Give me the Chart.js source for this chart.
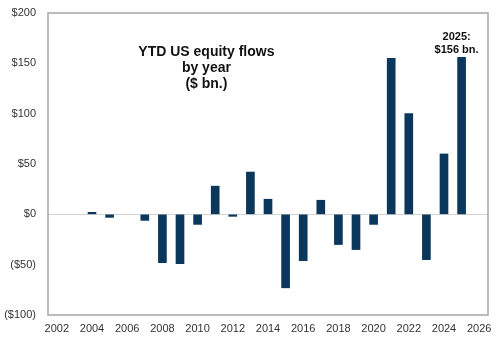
<!DOCTYPE html>
<html>
<head>
<meta charset="utf-8">
<script src="https://cdn.jsdelivr.net/npm/chart.js@4/dist/chart.umd.min.js"></script>
<style>
  html, body { margin: 0; padding: 0; background: #ffffff; }
  #wrap { width: 500px; height: 342px; }
</style>
</head>
<body>
<div id="wrap"><canvas id="flows"></canvas></div>
<script>
// Years on the x axis (category axis, every other one labelled)
const years = ["2002","2003","2004","2005","2006","2007","2008","2009","2010","2011","2012","2013",
  "2014","2015","2016","2017","2018","2019","2020","2021","2022","2023","2024","2025","2026"];
// YTD US equity flows, $ bn (null = no bar)
const flows = [null, null, 2, -3, null, -6, -48, -49, -10, 28, -2, 42,
  15, -73, -46, 14, -30, -35, -10, 155, 100, -45, 60, 156, null];

const titleLines = ["YTD US equity flows", "by year", "($ bn.)"];
const noteLines = ["2025:", "$156 bn."];

const fmtDollar = (v) => v < 0 ? "($" + Math.abs(v) + ")" : "$" + v;

// Box round the plot and the text inside it
const decorations = {
  id: "decorations",
  afterDraw(chart) {
    const { ctx, chartArea, scales } = chart;
    ctx.save();
    ctx.strokeStyle = "#a6a6a6";
    ctx.lineWidth = 1.5;
    ctx.strokeRect(chartArea.left, chartArea.top, chartArea.right - chartArea.left, chartArea.bottom - chartArea.top);

    ctx.fillStyle = "#111111";
    ctx.textAlign = "center";
    ctx.textBaseline = "middle";
    ctx.font = "bold 14px 'Liberation Sans', Arial, sans-serif";
    const tx = chartArea.left + (chartArea.right - chartArea.left) * 0.36;
    titleLines.forEach((t, i) => ctx.fillText(t, tx, chartArea.top + 39 + i * 16));

    ctx.font = "bold 11px 'Liberation Sans', Arial, sans-serif";
    const nx = scales.x.getPixelForValue(years.indexOf("2025")) - 5;
    const ny = scales.y.getPixelForValue(156);
    noteLines.forEach((t, i) => ctx.fillText(t, nx, ny - 20 + i * 13));
    ctx.restore();
  }
};

new Chart(document.getElementById("flows"), {
  type: "bar",
  plugins: [decorations],
  data: {
    labels: years,
    datasets: [{
      data: flows,
      backgroundColor: "#0c375c",
      barThickness: 8,
    }],
  },
  options: {
    responsive: true,
    maintainAspectRatio: false,
    animation: false,
    layout: { padding: { top: 13, right: 12, left: 0, bottom: 0 } },
    plugins: {
      legend: { display: false },
      tooltip: { enabled: false },
    },
    scales: {
      x: {
        grid: { display: false, drawTicks: false },
        border: { display: false },
        ticks: {
          autoSkip: false,
          maxRotation: 0,
          color: "#333333",
          font: { size: 11, family: "'Liberation Sans', Arial, sans-serif" },
          padding: 7,
          callback: (v, i) => (i % 2 === 0 ? years[i] : ""),
        },
        afterFit: (s) => { s.height = 27; },
      },
      y: {
        min: -100,
        max: 200,
        border: { display: false },
        grid: {
          drawTicks: false,
          color: (c) => (c.tick && c.tick.value === 0 ? "#d4d4d4" : "rgba(0,0,0,0)"),
          lineWidth: 1,
        },
        ticks: {
          stepSize: 50,
          color: "#333333",
          font: { size: 11, family: "'Liberation Sans', Arial, sans-serif" },
          padding: 12,
          callback: (v) => fmtDollar(v),
        },
        afterFit: (s) => {
          s.width = 48;
          // tick padding would otherwise push the plot top down
          s.paddingTop = 0;
          s.paddingBottom = 0;
        },
      },
    },
  },
});
</script>
</body>
</html>
